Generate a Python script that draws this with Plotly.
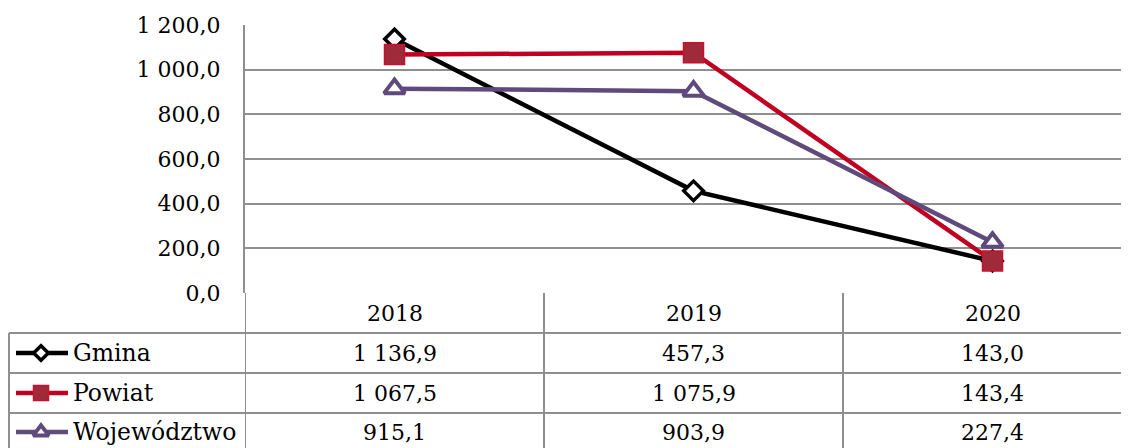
import plotly.graph_objects as go

years = ["2018", "2019", "2020"]
gmina = [1136.9, 457.3, 143.0]
powiat = [1067.5, 1075.9, 143.4]
wojewodztwo = [915.1, 903.9, 227.4]
labels = ["Gmina", "Powiat", "Województwo"]

# page is 1129x448 but the html body has an 8px margin, so the figure sits at (8, 8)
PAGE_W, PAGE_H = 1129, 448
OFF = 8
W, H = PAGE_W - OFF, PAGE_H - OFF
FONT = "DejaVu Serif"
GRID = "#8f8f8f"

# plot area in page pixels, table row lines below it
PL, PT, PB = 245, 25, 293
COLW = 299
ROWS = [293, 333, 373, 413]
ROW_MID = [353, 393, 432]

series = [
    dict(name=labels[0], y=gmina, color="#000000",
         marker=dict(symbol="diamond", size=15, color="white",
                     line=dict(color="#000000", width=3.5))),
    dict(name=labels[1], y=powiat, color="#C00021",
         marker=dict(symbol="square", size=20, color="#9E2A3A",
                     line=dict(color="#C8102E", width=1.5))),
    dict(name=labels[2], y=wojewodztwo, color="#5F4A7B",
         marker=dict(symbol="triangle-up", size=18, color="white",
                     line=dict(color="#5F4A7B", width=4))),
]


def fmt(v):
    s = f"{v:,.1f}"
    return s.replace(",", " ").replace(".", ",")


fig = go.Figure()

for s in series:
    fig.add_trace(go.Scatter(
        x=years, y=s["y"], name=s["name"], mode="lines+markers",
        line=dict(color=s["color"], width=4.5), marker=s["marker"],
        xaxis="x", yaxis="y", cliponaxis=False,
    ))

# legend keys inside the table, drawn on a pixel canvas axis
for i, s in enumerate(series):
    cy = ROW_MID[i]
    fig.add_trace(go.Scatter(
        x=[16, 68], y=[cy, cy], mode="lines",
        line=dict(color=s["color"], width=4.5),
        xaxis="x2", yaxis="y2", showlegend=False, hoverinfo="skip",
    ))
    m = dict(s["marker"])
    m["size"] = m["size"] * 0.75
    fig.add_trace(go.Scatter(
        x=[41], y=[cy], mode="markers", marker=m,
        xaxis="x2", yaxis="y2", showlegend=False, hoverinfo="skip",
    ))

shapes = []
for y in ROWS[1:]:
    shapes.append(dict(type="line", xref="x2", yref="y2", x0=9, x1=PAGE_W + 5,
                       y0=y, y1=y, line=dict(color=GRID, width=2)))
shapes.append(dict(type="line", xref="x2", yref="y2", x0=9, x1=9,
                   y0=ROWS[1], y1=PAGE_H + 5, line=dict(color=GRID, width=2)))
# column separators on the category axis
for xc in [-0.5, 0.5, 1.5]:
    shapes.append(dict(type="line", xref="x", yref="y2", x0=xc, x1=xc,
                       y0=ROWS[0], y1=PAGE_H + 5, line=dict(color=GRID, width=2)))

tfont = dict(family=FONT, size=22, color="black")
lfont = dict(family=FONT, size=23.5, color="black")
annotations = []
for j, yr in enumerate(years):
    annotations.append(dict(xref="x", yref="y2", x=j, y=(ROWS[0] + ROWS[1]) / 2,
                            text=yr, showarrow=False, xanchor="center",
                            yanchor="middle", font=tfont))
for i, s in enumerate(series):
    cy = ROW_MID[i]
    annotations.append(dict(xref="x2", yref="y2", x=71, y=cy, text=s["name"],
                            showarrow=False, xanchor="left", yanchor="middle",
                            font=lfont))
    for j, v in enumerate(s["y"]):
        annotations.append(dict(xref="x", yref="y2", x=j, y=cy, text=fmt(v),
                                showarrow=False, xanchor="center", yanchor="middle",
                                font=tfont))

fig.update_layout(
    width=W, height=H,
    margin=dict(l=0, r=0, t=0, b=0, pad=0),
    paper_bgcolor="white", plot_bgcolor="rgba(0,0,0,0)",
    showlegend=False,
    separators=", ",
    font=tfont,
    xaxis=dict(
        domain=[(PL - OFF) / W, 1], type="category",
        range=[-0.5, -0.5 + (PAGE_W - PL) / COLW],
        showticklabels=False, showgrid=False, zeroline=False,
        showline=False, fixedrange=True,
    ),
    yaxis=dict(
        domain=[(PAGE_H - PB) / H, (PAGE_H - PT) / H],
        range=[0, 1200], dtick=200, tickformat=",.1f",
        showgrid=True, gridcolor=GRID, gridwidth=2,
        zeroline=False, showline=True, linecolor=GRID, linewidth=2,
        ticks="outside", ticklen=18, tickcolor="rgba(0,0,0,0)",
        tickfont=tfont, automargin=False,
    ),
    xaxis2=dict(domain=[0, 1], range=[OFF, PAGE_W], visible=False,
                fixedrange=True, anchor="y2"),
    yaxis2=dict(domain=[0, 1], range=[PAGE_H, OFF], visible=False,
                fixedrange=True, anchor="x2"),
    shapes=shapes,
    annotations=annotations,
)

fig.write_html("out.html")
